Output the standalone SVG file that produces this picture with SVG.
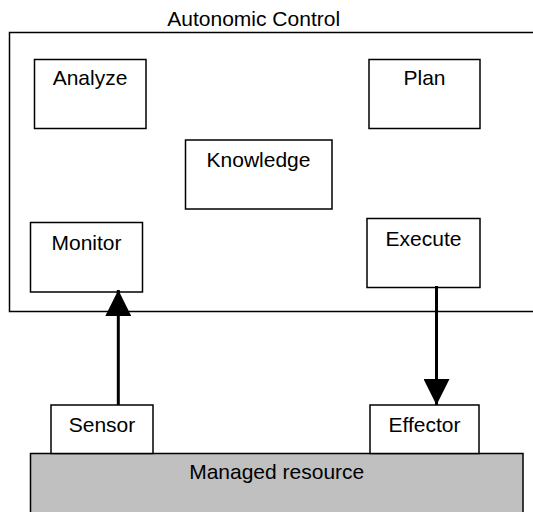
<svg xmlns="http://www.w3.org/2000/svg" width="533" height="512" viewBox="0 0 533 512">
<style>
.box{fill:#fff;stroke:#000;stroke-width:1.5}
.res{fill:#c0c0c0;stroke:#000;stroke-width:1.5}
text{font-family:"Liberation Sans",Arial,sans-serif;font-size:21px;fill:#000;text-anchor:middle}
.conn{stroke:#000;stroke-width:3;fill:none}
</style>
<defs>
<marker id="ah" markerUnits="userSpaceOnUse" markerWidth="26" markerHeight="26" viewBox="0 0 26 26" refX="26" refY="13" orient="auto">
<path d="M0,0 L26,13 L0,26 Z" fill="#000"/>
</marker>
</defs>
<g id="autonomic-control">
<rect class="box" x="9.5" y="32.5" width="540" height="279"/>
<text x="253.7" y="26">Autonomic Control</text>
</g>
<g id="analyze">
<rect class="box" x="34.5" y="59.5" width="111.5" height="69"/>
<text x="90" y="85">Analyze</text>
</g>
<g id="plan">
<rect class="box" x="369" y="59.5" width="111" height="69"/>
<text x="424.5" y="85">Plan</text>
</g>
<g id="knowledge">
<rect class="box" x="185.5" y="140" width="146.5" height="69"/>
<text x="258.5" y="167">Knowledge</text>
</g>
<g id="monitor">
<rect class="box" x="30.5" y="222.5" width="112" height="69.5"/>
<text x="86.5" y="249.5">Monitor</text>
</g>
<g id="execute">
<rect class="box" x="367" y="218.5" width="113" height="69"/>
<text x="423.5" y="245.5">Execute</text>
</g>
<g id="managed-resource">
<rect class="res" x="30.5" y="453.5" width="492.5" height="70"/>
<text x="276.7" y="478.5">Managed resource</text>
</g>
<g id="sensor">
<rect class="box" x="51" y="405" width="102" height="48.5"/>
<text x="102" y="432">Sensor</text>
</g>
<g id="effector">
<rect class="box" x="370" y="405" width="109" height="48.5"/>
<text x="424.5" y="432">Effector</text>
</g>
<g id="connectors">
<line class="conn" x1="118.3" y1="405" x2="118.3" y2="290" marker-end="url(#ah)"/>
<line class="conn" x1="436.5" y1="286" x2="436.5" y2="405" marker-end="url(#ah)"/>
</g>
</svg>
